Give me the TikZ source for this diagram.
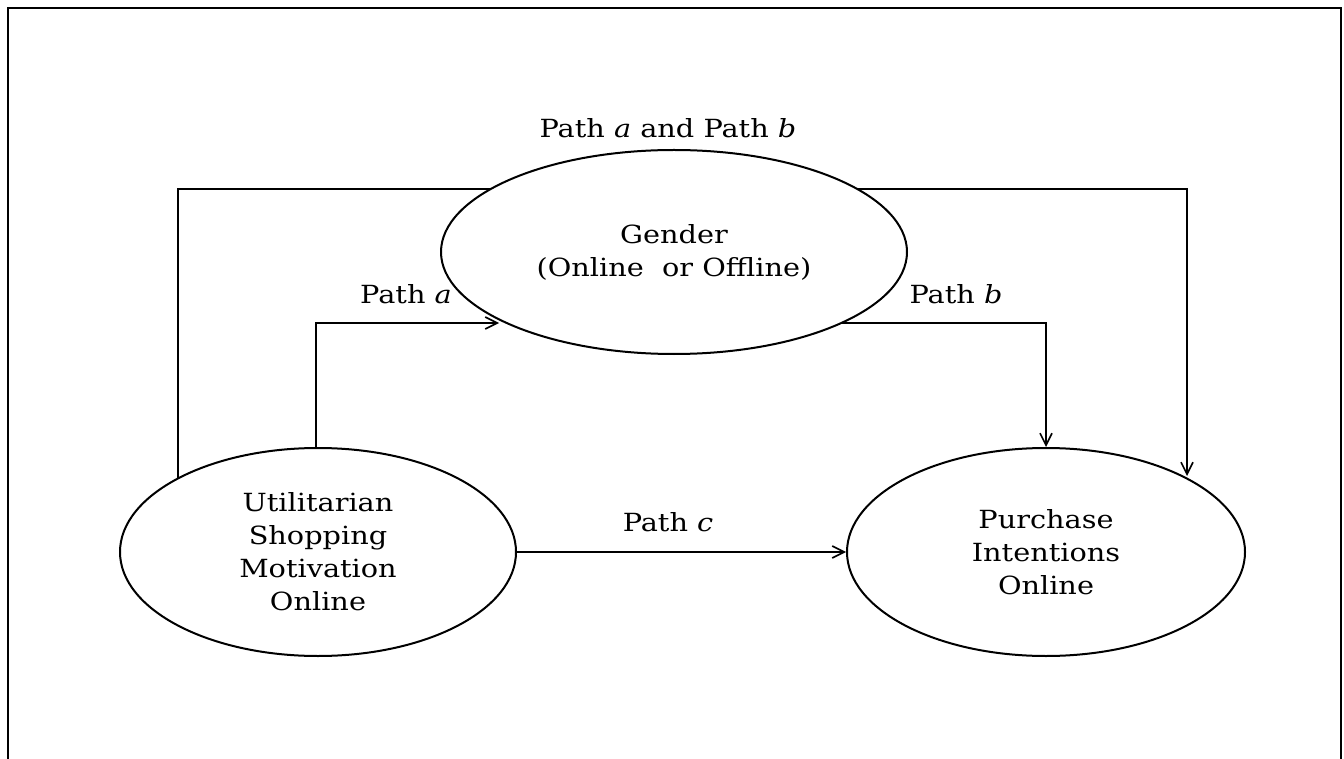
\documentclass[tikz,border=0pt]{standalone}
\usepackage{fontspec}
\setmainfont[FakeStretch=1.15]{DejaVu Serif}
\usetikzlibrary{shapes.geometric,arrows.meta,calc,backgrounds}
\begin{document}
\begin{tikzpicture}[x=0.5pt,y=-0.5pt,
  every node/.style={font=\fontsize{12.5pt}{16.5pt}\selectfont},
  oval/.style={ellipse,draw,line width=1pt,fill=white,inner sep=0pt,align=center},
  conn/.style={line width=0.8pt},
  arr/.style={conn,-{Straight Barb[length=6pt,width=6pt]}},
  lbl/.style={inner sep=0pt}]
\useasboundingbox (0,0) rectangle (1344,759);
\draw[line width=1pt] (7.5,759) -- (7.5,8) -- (1341,8) -- (1341,759);
\node[oval,minimum width=233pt,minimum height=102pt] (G) at (674,252) {Gender\\(Online\ \ or Offline)};
\node[oval,minimum width=198pt,minimum height=104pt] (U) at (318,552) {Utilitarian\\Shopping\\Motivation\\Online};
\node[oval,minimum width=199pt,minimum height=104pt] (P) at (1046,552) {Purchase\\Intentions\\Online};
\begin{scope}[on background layer]
  \draw[arr] ($(U.center)+(-140,0)$) |- ($(G.center)+(0,-63)$) -| ($(P.center)+(141,-76)$);
  \draw[arr] ($(U.center)+(-2,0)$) |- ($(G.center)+(-175,71)$);
  \draw[arr] ($(G.center)+(0,71)$) -| (P.north);
\end{scope}
\draw[arr] (U.east) -- (P.west);
\node[lbl] (lab) at (668,128) {Path \textit{a} and Path \textit{b}};
\node[lbl] (la) at (406,294) {Path \textit{a}};
\node[lbl] (lb) at (956,294) {Path \textit{b}};
\node[lbl] (lc) at (668,522) {Path \textit{c}};
\end{tikzpicture}
\end{document}
